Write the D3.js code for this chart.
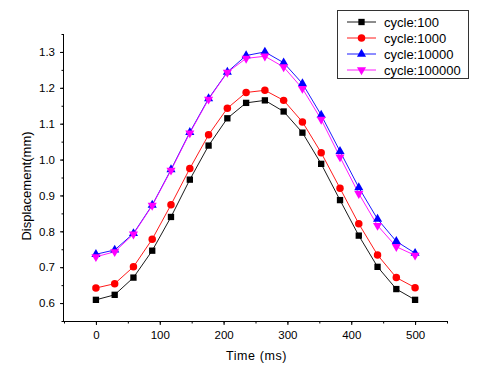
<!DOCTYPE html>
<html>
<head>
<meta charset="UTF-8">
<title>Displacement vs Time</title>
<script src="https://cdn.jsdelivr.net/npm/d3@7"></script>
<style>
  body { margin: 0; background: #fff; }
  text { font-family: Arial, "Liberation Sans", sans-serif; fill: #000; }
</style>
</head>
<body>
<script>
// time points (ms)
const times = [0, 29.4, 58.8, 88.2, 117.6, 147.1, 176.5, 205.9, 235.3, 264.7,
               294.1, 323.5, 352.9, 382.4, 411.8, 441.2, 470.6, 500];

const cycle100 = [0.609, 0.623, 0.671, 0.746, 0.840, 0.944, 1.039, 1.115, 1.158,
                  1.165, 1.134, 1.075, 0.988, 0.887, 0.788, 0.701, 0.639, 0.609];
const cycle1000 = [0.642, 0.654, 0.701, 0.778, 0.874, 0.975, 1.069, 1.143, 1.187,
                   1.193, 1.165, 1.105, 1.019, 0.920, 0.821, 0.734, 0.671, 0.643];
const cycle10000 = [0.736, 0.748, 0.794, 0.873, 0.972, 1.076, 1.170, 1.244, 1.290,
                    1.300, 1.270, 1.212, 1.124, 1.023, 0.922, 0.834, 0.772, 0.739];
const cycle100000 = [0.729, 0.743, 0.792, 0.872, 0.970, 1.074, 1.168, 1.243, 1.282,
                     1.288, 1.258, 1.198, 1.112, 1.007, 0.905, 0.816, 0.757, 0.733];

const seriesNames = ["cycle:100", "cycle:1000", "cycle:10000", "cycle:100000"];
const xTicks = [0, 100, 200, 300, 400, 500];
const yTicks = [0.6, 0.7, 0.8, 0.9, 1.0, 1.1, 1.2, 1.3];

const series = [
  { name: seriesNames[0], values: cycle100, color: "#000", symbol: d3.symbolSquare, size: 40, rot: 0 },
  { name: seriesNames[1], values: cycle1000, color: "#f00", symbol: d3.symbolCircle, size: 44, rot: 0 },
  { name: seriesNames[2], values: cycle10000, color: "#00f", symbol: d3.symbolTriangle, size: 36, rot: 0 },
  { name: seriesNames[3], values: cycle100000, color: "#f0f", symbol: d3.symbolTriangle, size: 36, rot: 180 }
];

const width = 480, height = 371;
const plotLeft = 64, plotRight = 447, plotTop = 34, plotBottom = 321;

const x = d3.scaleLinear().domain([-50, 550]).range([plotLeft, plotRight]);
const y = d3.scaleLinear().domain([0.55, 1.35]).range([plotBottom, plotTop]);

const svg = d3.select("body").append("svg")
  .attr("width", width)
  .attr("height", height);

// axes
const xMinor = d3.range(-50, 551, 50);
const yMinor = d3.range(0.55, 1.351, 0.05);

const gx = svg.append("g").attr("transform", `translate(0,${plotBottom})`);
gx.call(d3.axisBottom(x).tickValues(xMinor).tickSize(2.5).tickFormat(""));
gx.call(g => g.select(".domain").remove());
const gx2 = svg.append("g").attr("transform", `translate(0,${plotBottom})`)
  .call(d3.axisBottom(x).tickValues(xTicks).tickSize(4).tickPadding(6).tickFormat(d3.format("d")));
gx2.select(".domain").attr("d", `M${plotLeft},0.5H${plotRight}`);
gx2.selectAll("text").attr("font-size", 11.5).attr("fill", "#000");

const gy = svg.append("g").attr("transform", `translate(${plotLeft},0)`);
gy.call(d3.axisLeft(y).tickValues(yMinor).tickSize(2.5).tickFormat(""));
gy.call(g => g.select(".domain").remove());
const gy2 = svg.append("g").attr("transform", `translate(${plotLeft},0)`)
  .call(d3.axisLeft(y).tickValues(yTicks).tickSize(4).tickPadding(5).tickFormat(d3.format(".1f")));
gy2.select(".domain").attr("d", `M-0.5,${plotTop}V${plotBottom}`);
gy2.selectAll("text").attr("font-size", 11.5).attr("fill", "#000");

svg.selectAll(".tick line").attr("stroke", "#000");

// axis titles
svg.append("text")
  .attr("x", (plotLeft + plotRight) / 2 + 1)
  .attr("y", 360)
  .attr("text-anchor", "middle")
  .attr("font-size", 12.5)
  .attr("letter-spacing", 0.6)
  .text("Time (ms)");

svg.append("text")
  .attr("transform", `translate(31,186) rotate(-90)`)
  .attr("text-anchor", "middle")
  .attr("font-size", 13)
  .text("Displacement(mm)");

// lines + markers
const line = d3.line().x((d, i) => x(times[i])).y(d => y(d));

series.forEach(s => {
  svg.append("path")
    .datum(s.values)
    .attr("fill", "none")
    .attr("stroke", s.color)
    .attr("stroke-width", 0.9)
    .attr("d", line);
});

series.forEach(s => {
  svg.append("g").selectAll("path")
    .data(s.values)
    .join("path")
    .attr("d", d3.symbol(s.symbol, s.size))
    .attr("transform", (d, i) => `translate(${x(times[i])},${y(d)}) rotate(${s.rot})`)
    .attr("fill", s.color);
});

// legend
const legend = svg.append("g");
legend.append("rect")
  .attr("x", 337.5).attr("y", 10.5)
  .attr("width", 131).attr("height", 68)
  .attr("fill", "#fff")
  .attr("stroke", "#333");

const legendY = d3.scalePoint().domain(seriesNames).range([22, 70]);

series.forEach(s => {
  const ly = legendY(s.name);
  legend.append("line")
    .attr("x1", 347).attr("x2", 376)
    .attr("y1", ly).attr("y2", ly)
    .attr("stroke", s.color).attr("stroke-width", 0.9);
  legend.append("path")
    .attr("d", d3.symbol(s.symbol, s.size))
    .attr("transform", `translate(361.5,${ly}) rotate(${s.rot})`)
    .attr("fill", s.color);
  legend.append("text")
    .attr("x", 384)
    .attr("y", ly + 4.5)
    .attr("font-size", 13)
    .text(s.name);
});
</script>
</body>
</html>
